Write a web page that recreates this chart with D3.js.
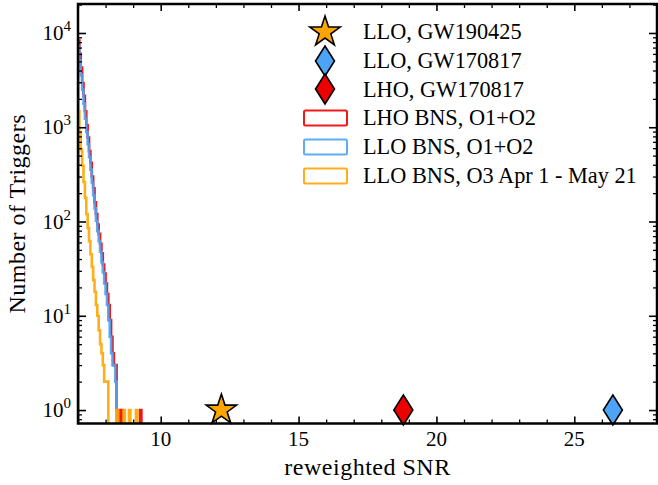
<!DOCTYPE html>
<html>
<head>
<meta charset="utf-8">
<script src="https://cdn.jsdelivr.net/npm/d3@7"></script>
<style>
  body { margin: 0; background: #fff; }
</style>
</head>
<body>
<script>
// histogram bins (reweighted SNR) and counts
var binEdges = [7.00, 7.05, 7.10, 7.15, 7.20, 7.25, 7.30, 7.35, 7.40, 7.45,
  7.50, 7.55, 7.60, 7.65, 7.70, 7.75, 7.80, 7.85, 7.90, 7.95,
  8.00, 8.05, 8.10, 8.15, 8.20, 8.25, 8.30, 8.35, 8.40, 8.45,
  8.50, 8.55, 8.60, 8.65, 8.70, 8.75, 8.80, 8.85, 8.90, 8.95,
  9.00, 9.05, 9.10, 9.15, 9.20, 9.25, 9.30, 9.35];

var lhoCounts = [8300, 6000, 4300, 2950, 2150, 1480, 1050, 780, 560, 420,
  300, 225, 160, 120, 93, 74, 58, 46, 35, 28,
  22, 17, 13, 9, 6, 4, 3, 3, 1, 0,
  0, 1, 0, 0, 0, 0, 0, 0, 0, 0,
  0, 0, 0, 0, 0, 1, 0];

var lloCounts = [7200, 5100, 3550, 2500, 1780, 1230, 890, 660, 480, 355,
  257, 190, 138, 102, 79, 62, 48, 37, 29, 22,
  17, 13, 9, 6, 4, 3, 3, 2, 0, 0,
  0, 0, 0, 0, 0, 0, 0, 0, 0, 0,
  0, 0, 0, 0, 0, 0, 0];

var o3Counts = [1480, 850, 575, 390, 263, 178, 120, 85, 62, 45,
  33, 24, 18, 13, 10, 7, 5, 4, 3, 2,
  2, 2, 0, 0, 0, 0, 0, 0, 1, 0,
  0, 0, 0, 1, 0, 0, 0, 1, 0, 0,
  0, 0, 1, 0, 0, 0, 0];

// single events
var eventNames = ["LLO, GW190425", "LLO, GW170817", "LHO, GW170817"];
var eventSnr = [12.2, 26.4, 18.8];
var eventCount = [1, 1, 1];

var histNames = ["LHO BNS, O1+O2", "LLO BNS, O1+O2", "LLO BNS, O3 Apr 1 - May 21"];

var xMajor = [10, 15, 20, 25];
var yMajor = [1, 10, 100, 1000, 10000];
var yExp = ["0", "1", "2", "3", "4"];

var W = 658, H = 485;
var margin = { top: 4, right: 1, bottom: 61.5, left: 78 };

var RED = "#ec0000", BLUE = "#4da3f5", ORANGE = "#ffa500";

var svg = d3.select("body").append("svg")
  .attr("width", W).attr("height", H);

var x = d3.scaleLinear().domain([7, 28]).range([margin.left, W - margin.right]);
var y = d3.scaleLog().domain([0.72, 20300]).range([H - margin.bottom, margin.top]);

svg.append("clipPath").attr("id", "plotclip")
  .append("rect")
  .attr("x", margin.left).attr("y", margin.top)
  .attr("width", W - margin.left - margin.right)
  .attr("height", H - margin.top - margin.bottom);

// step histogram outline
var floorVal = 0.1;
function stepPath(counts) {
  var pts = [[binEdges[0], floorVal]];
  counts.forEach(function (c, i) {
    var v = c > 0 ? c : floorVal;
    pts.push([binEdges[i], v]);
    pts.push([binEdges[i + 1], v]);
  });
  pts.push([binEdges[counts.length], floorVal]);
  return d3.line().x(function (d) { return x(d[0]); })
    .y(function (d) { return y(d[1]); })(pts);
}

var plot = svg.append("g").attr("clip-path", "url(#plotclip)");
[[lhoCounts, RED], [lloCounts, BLUE], [o3Counts, ORANGE]].forEach(function (h) {
  plot.append("path")
    .attr("d", stepPath(h[0]))
    .attr("fill", "none")
    .attr("stroke", h[1])
    .attr("stroke-width", 2.6)
    .attr("stroke-opacity", 0.9);
});

// markers
var star = d3.symbol().type(d3.symbolStar).size(16 * 16 / 0.8908130915)();
var diamond = "M0,-15L9.5,0L0,15L-9.5,0Z";
var markerPaths = [star, diamond, diamond];
var markerColors = [ORANGE, BLUE, RED];

eventSnr.forEach(function (s, i) {
  svg.append("path")
    .attr("d", markerPaths[i])
    .attr("transform", "translate(" + x(s) + "," + y(eventCount[i]) + ")")
    .attr("fill", markerColors[i])
    .attr("stroke", "#000")
    .attr("stroke-width", 1.6)
    .attr("stroke-linejoin", "miter");
});

// ticks, pointing inwards on all four sides
var xMinor = d3.range(7, 29).filter(function (v) { return xMajor.indexOf(v) < 0; });
var yMinor = [];
[0.1, 1, 10, 100, 1000, 10000].forEach(function (d) {
  for (var k = 2; k <= 9; k++) {
    var v = d * k;
    if (v > 0.72 && v < 20300) yMinor.push(v);
  }
});

function tickAxis(axis, vals, len) {
  return axis.tickValues(vals).tickSize(-len).tickFormat("");
}
var bottom = H - margin.bottom, right = W - margin.right;
var axes = [
  [d3.axisBottom(x), xMajor, 7, "translate(0," + bottom + ")"],
  [d3.axisBottom(x), xMinor, 4, "translate(0," + bottom + ")"],
  [d3.axisTop(x), xMajor, 7, "translate(0," + margin.top + ")"],
  [d3.axisTop(x), xMinor, 4, "translate(0," + margin.top + ")"],
  [d3.axisLeft(y), yMajor, 8, "translate(" + margin.left + ",0)"],
  [d3.axisLeft(y), yMinor, 4, "translate(" + margin.left + ",0)"],
  [d3.axisRight(y), yMajor, 8, "translate(" + right + ",0)"],
  [d3.axisRight(y), yMinor, 4, "translate(" + right + ",0)"]
];
axes.forEach(function (a) {
  var g = svg.append("g").attr("transform", a[3]).call(tickAxis(a[0], a[1], a[2]));
  g.select(".domain").remove();
  g.selectAll(".tick line").attr("stroke", "#000").attr("stroke-width", a[2] > 5 ? 1.6 : 1.3);
});

// frame
svg.append("rect")
  .attr("x", margin.left).attr("y", margin.top)
  .attr("width", W - margin.left - margin.right)
  .attr("height", H - margin.top - margin.bottom)
  .attr("fill", "none").attr("stroke", "#000").attr("stroke-width", 2.5);

function label(sel, size) {
  return sel.style("font-family", "'Liberation Serif'").style("font-size", size + "px").attr("fill", "#000");
}

// tick labels
xMajor.forEach(function (v) {
  label(svg.append("text"), 21)
    .attr("x", x(v)).attr("y", bottom + 22.5)
    .attr("text-anchor", "middle")
    .text(v);
});
yMajor.forEach(function (v, i) {
  var t = label(svg.append("text"), 21)
    .attr("x", 71).attr("y", y(v) + 7)
    .attr("text-anchor", "end");
  t.append("tspan").text("10");
  t.append("tspan").attr("dy", -9).style("font-size", "15px").text(yExp[i]);
});

// axis titles
label(svg.append("text"), 24)
  .attr("x", (margin.left + right) / 2).attr("y", 475)
  .attr("text-anchor", "middle")
  .style("letter-spacing", "0.5px")
  .text("reweighted SNR");
label(svg.append("text"), 24)
  .attr("transform", "translate(25," + (margin.top + bottom) / 2 + ") rotate(-90)")
  .attr("text-anchor", "middle")
  .style("letter-spacing", "0.5px")
  .text("Number of Triggers");

// legend
var legendRows = [32, 61, 89, 118, 147, 176];
var legendNames = eventNames.concat(histNames);
var legendText = [31.5, 60.5, 89, 117.5, 146.5, 175.5];
var lg = svg.append("g");
markerPaths.forEach(function (p, i) {
  lg.append("path")
    .attr("d", p)
    .attr("transform", "translate(325," + legendRows[i] + ")")
    .attr("fill", markerColors[i])
    .attr("stroke", "#000")
    .attr("stroke-width", 1.6);
});
[RED, BLUE, ORANGE].forEach(function (c, i) {
  lg.append("rect")
    .attr("x", 304).attr("y", legendRows[i + 3] - 7.5)
    .attr("width", 43).attr("height", 15)
    .attr("rx", 1.5)
    .attr("fill", "none")
    .attr("stroke", c)
    .attr("stroke-width", 2)
    .attr("stroke-opacity", 0.9);
});
legendNames.forEach(function (n, i) {
  label(lg.append("text"), 22.3)
    .attr("x", 363).attr("y", legendText[i] + 7.5)
    .text(n);
});
</script>
</body>
</html>
